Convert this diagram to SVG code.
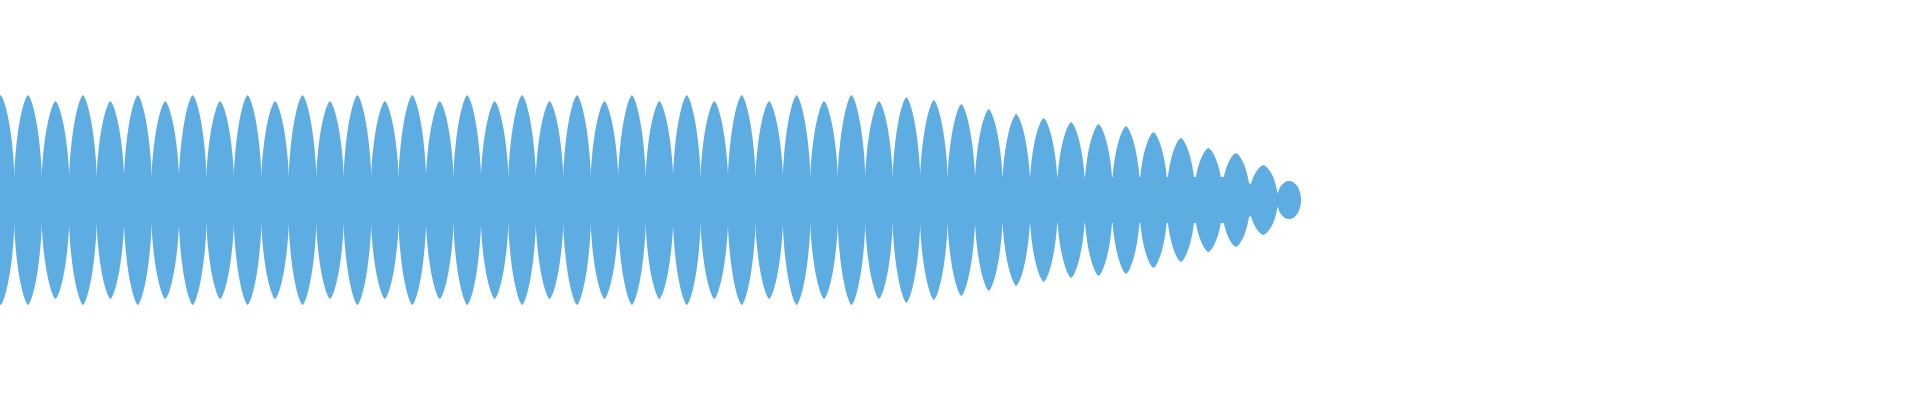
<svg xmlns="http://www.w3.org/2000/svg" width="1920" height="400" viewBox="0 0 1920 400">
<defs>
<style>.w{fill:#5dade2;stroke:none}</style>
<path id="lobe" d="M-14.4,0 C-14.2,-0.62 -4.5,-0.97 0,-1 C4.5,-0.97 14.2,-0.62 14.4,0 C14.2,0.62 4.5,0.97 0,1 C-4.5,0.97 -14.2,0.62 -14.4,0Z"/>
</defs>
<rect width="1920" height="400" fill="#fff"/>
<g id="waveform" class="w">
<polygon points="0,177 1230,177 1300,200 1230,223 0,223"/>
<use href="#lobe" transform="translate(0.55,200) scale(1,105)"/>
<use href="#lobe" transform="translate(28,200) scale(1,105)"/>
<use href="#lobe" transform="translate(55.45,200) scale(1,99)"/>
<use href="#lobe" transform="translate(82.9,200) scale(1,105)"/>
<use href="#lobe" transform="translate(110.35,200) scale(1,99)"/>
<use href="#lobe" transform="translate(137.8,200) scale(1,105)"/>
<use href="#lobe" transform="translate(165.25,200) scale(1,99)"/>
<use href="#lobe" transform="translate(192.7,200) scale(1,105)"/>
<use href="#lobe" transform="translate(220.15,200) scale(1,99)"/>
<use href="#lobe" transform="translate(247.6,200) scale(1,105)"/>
<use href="#lobe" transform="translate(275.05,200) scale(1,99)"/>
<use href="#lobe" transform="translate(302.5,200) scale(1,105)"/>
<use href="#lobe" transform="translate(329.95,200) scale(1,99)"/>
<use href="#lobe" transform="translate(357.4,200) scale(1,105)"/>
<use href="#lobe" transform="translate(384.85,200) scale(1,99)"/>
<use href="#lobe" transform="translate(412.3,200) scale(1,105)"/>
<use href="#lobe" transform="translate(439.75,200) scale(1,99)"/>
<use href="#lobe" transform="translate(467.2,200) scale(1,105)"/>
<use href="#lobe" transform="translate(494.65,200) scale(1,99)"/>
<use href="#lobe" transform="translate(522.1,200) scale(1,105)"/>
<use href="#lobe" transform="translate(549.55,200) scale(1,99)"/>
<use href="#lobe" transform="translate(577,200) scale(1,105)"/>
<use href="#lobe" transform="translate(604.45,200) scale(1,99)"/>
<use href="#lobe" transform="translate(631.9,200) scale(1,105)"/>
<use href="#lobe" transform="translate(659.35,200) scale(1,99)"/>
<use href="#lobe" transform="translate(686.8,200) scale(1,105)"/>
<use href="#lobe" transform="translate(714.25,200) scale(1,99)"/>
<use href="#lobe" transform="translate(741.7,200) scale(1,105)"/>
<use href="#lobe" transform="translate(769.15,200) scale(1,99)"/>
<use href="#lobe" transform="translate(796.6,200) scale(1,105)"/>
<use href="#lobe" transform="translate(824.05,200) scale(1,99)"/>
<use href="#lobe" transform="translate(851.5,200) scale(1,105)"/>
<use href="#lobe" transform="translate(878.95,200) scale(1,99)"/>
<use href="#lobe" transform="translate(906.4,200) scale(1,103)"/>
<use href="#lobe" transform="translate(933.85,200) scale(1,100)"/>
<use href="#lobe" transform="translate(961.3,200) scale(1,96)"/>
<use href="#lobe" transform="translate(988.75,200) scale(1,91)"/>
<use href="#lobe" transform="translate(1016.2,200) scale(1,86)"/>
<use href="#lobe" transform="translate(1043.65,200) scale(1,82)"/>
<use href="#lobe" transform="translate(1071.1,200) scale(1,78)"/>
<use href="#lobe" transform="translate(1098.55,200) scale(1,76)"/>
<use href="#lobe" transform="translate(1126,200) scale(1,74)"/>
<use href="#lobe" transform="translate(1153.45,200) scale(1,68)"/>
<use href="#lobe" transform="translate(1180.9,200) scale(1,62)"/>
<use href="#lobe" transform="translate(1208.35,200) scale(1,52)"/>
<use href="#lobe" transform="translate(1235.8,200) scale(1,47)"/>
<use href="#lobe" transform="translate(1263.25,200) scale(1,35)"/>
<ellipse cx="1289" cy="200" rx="12" ry="19"/>
</g>
</svg>
